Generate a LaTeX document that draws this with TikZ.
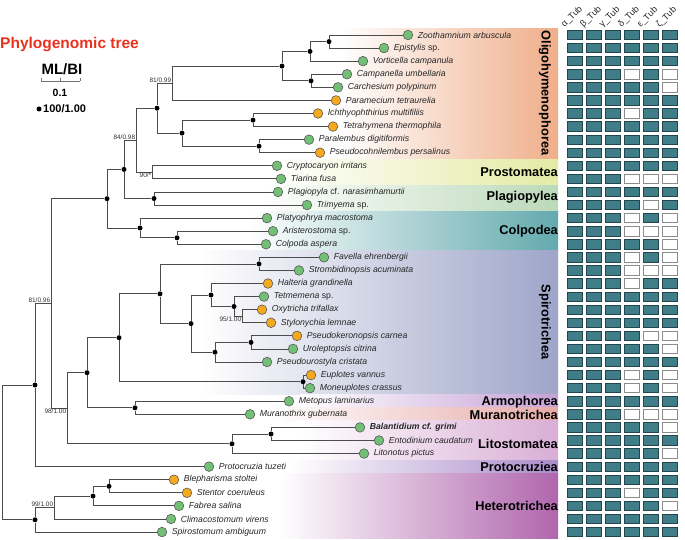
\documentclass[tikz,border=0pt]{standalone}
\usepackage{fontspec}
\setmainfont{Liberation Sans}
\usetikzlibrary{positioning,backgrounds}
\definecolor{Leaf}{HTML}{72BF76}
\definecolor{Amber}{HTML}{F6A91C}
\definecolor{TubFill}{HTML}{3F7D89}
\definecolor{TubLine}{HTML}{24454C}
\definecolor{TitleRed}{HTML}{E8321E}
\definecolor{OligoC}{HTML}{EFAE8A}
\definecolor{ProstC}{HTML}{E3EBA4}
\definecolor{PlagC}{HTML}{BCD9BA}
\definecolor{ColpC}{HTML}{63AAAE}
\definecolor{SpiroC}{HTML}{9EA5C9}
\definecolor{ArmoC}{HTML}{C6A1D6}
\definecolor{MuraC}{HTML}{E6AAA6}
\definecolor{LitoC}{HTML}{D9AED5}
\definecolor{ProtoC}{HTML}{A98CCB}
\definecolor{HeteC}{HTML}{B066AD}

\begin{document}
\begin{tikzpicture}[x=1pt,y=-1pt,
    branch/.style={draw=black!70,line width=0.8pt},
    tip/.style={circle,draw=black!65,line width=0.6pt,minimum size=9.6pt,inner sep=0pt},
    dot/.style={circle,fill=black,inner sep=0pt,minimum size=5pt},
    taxon/.style={font=\fontsize{8.7}{10}\selectfont\itshape,text=black!85,inner sep=0pt},
    support/.style={font=\fontsize{6.5}{7}\selectfont,text=black!80,inner sep=0.6pt},
    clade/.style={font=\fontsize{12.8}{14}\selectfont\bfseries,inner sep=0pt},
    tubhead/.style={font=\fontsize{9}{10}\selectfont,text=black!85,inner sep=0pt},
    tubbox/.style={draw=TubLine,fill=TubFill,line width=0.8pt,minimum width=15pt,minimum height=9.4pt,inner sep=0pt},
    nobox/.style={draw=black!45,fill=white,line width=0.8pt,minimum width=15pt,minimum height=9.4pt,inner sep=0pt}]
  \useasboundingbox (0,0) rectangle (685,540);

  % title and legend
  \node[anchor=west,inner sep=0pt,text=TitleRed,font=\fontsize{15.5}{17}\selectfont\bfseries]
    (title) at (0,45) {Phylogenomic tree};
  \node[font=\fontsize{15}{17}\selectfont\bfseries,inner sep=0pt] (mlbi) at (62,69) {ML/BI};
  \coordinate (sb-l) at (41,81);
  \coordinate (sb-r) at (80,81);
  \draw[black!55,line width=0.8pt] (sb-l) -- (sb-r);
  \foreach \xx in {41,60.5,80}
    \draw[black!55,line width=0.8pt] (\xx,78) -- (\xx,81);
  \node[font=\fontsize{10.5}{12}\selectfont\bfseries,inner sep=0pt] (sbval) at (60,93) {0.1};
  \node[dot] (legdot) at (39,109) {};
  \node[anchor=west,inner sep=0pt,font=\fontsize{11}{13}\selectfont\bfseries] (legtxt) at (43,109) {100/1.00};

  % leaves
  \foreach \nm/\xx/\rr/\col/\txt in {
      zoo/408/1/Leaf/{Zoothamnium arbuscula},
      epi/384/2/Leaf/{Epistylis \textup{sp.}},
      vor/363/3/Leaf/{Vorticella campanula},
      cam/347/4/Leaf/{Campanella umbellaria},
      car/338/5/Leaf/{Carchesium polypinum},
      par/336/6/Amber/{Paramecium tetraurelia},
      ich/318/7/Amber/{Ichthyophthirius multifiliis},
      tet/333/8/Amber/{Tetrahymena thermophila},
      pal/309/9/Leaf/{Paralembus digitiformis},
      psc/320/10/Amber/{Pseudocohnilembus persalinus},
      cry/277/11/Leaf/{Cryptocaryon irritans},
      tia/281/12/Leaf/{Tiarina fusa},
      pla/278/13/Leaf/{Plagiopyla \textup{cf.} narasimhamurtii},
      tri/307/14/Leaf/{Trimyema \textup{sp.}},
      pma/267/15/Leaf/{Platyophrya macrostoma},
      ari/273/16/Leaf/{Aristerostoma \textup{sp.}},
      col/266/17/Leaf/{Colpoda aspera},
      fav/324/18/Leaf/{Favella ehrenbergii},
      str/299/19/Leaf/{Strombidinopsis acuminata},
      hal/268/20/Amber/{Halteria grandinella},
      tem/264/21/Leaf/{Tetmemena \textup{sp.}},
      oxy/262/22/Amber/{Oxytricha trifallax},
      sty/271/23/Amber/{Stylonychia lemnae},
      pke/297/24/Amber/{Pseudokeronopsis carnea},
      uro/293/25/Leaf/{Uroleptopsis citrina},
      pur/267/26/Leaf/{Pseudourostyla cristata},
      eup/311/27/Amber/{Euplotes vannus},
      mon/310/28/Leaf/{Moneuplotes crassus},
      met/289/29/Leaf/{Metopus laminarius},
      mur/250/30/Leaf/{Muranothrix gubernata},
      bal/360/31/Leaf/{\bfseries Balantidium cf. grimi},
      ent/379/32/Leaf/{Entodinium caudatum},
      lit/364/33/Leaf/{Litonotus pictus},
      pro/209/34/Leaf/{Protocruzia tuzeti},
      ble/174/35/Amber/{Blepharisma stoltei},
      ste/187/36/Amber/{Stentor coeruleus},
      fab/179/37/Leaf/{Fabrea salina},
      cli/171/38/Leaf/{Climacostomum virens},
      spi/162/39/Leaf/{Spirostomum ambiguum}}
  {
    \node[tip,fill=\col] (\nm) at (\xx,{35+13.08*(\rr-1)}) {};
    \node[taxon,right=4.5pt of \nm] (\nm-t) {\txt};
  }

  % inner nodes
  \node[dot] (zo) at (329,41.6) {};
  \node[dot] (vo) at (310,51.4) {};
  \node[dot] (cc) at (311,80.8) {};
  \node[dot] (pe) at (282,66.1) {};
  \coordinate (s1) at (172,83.3);
  \node[dot] (it) at (253,120.1) {};
  \node[dot] (pp) at (259,146.2) {};
  \node[dot] (sc) at (182,133.1) {};
  \node[dot] (oh) at (157,108.2) {};
  \coordinate (s2) at (152,172.4);
  \coordinate (s3) at (136,140.3);
  \node[dot] (pg) at (154,198.5) {};
  \node[dot] (op) at (124,169.4) {};
  \node[dot] (ac) at (177,237.8) {};
  \node[dot] (cp) at (140,228) {};
  \node[dot] (cn) at (107,198.7) {};
  \node[dot] (fs) at (259,263.9) {};
  \coordinate (s4) at (242,316.3);
  \node[dot] (ts) at (234,306.5) {};
  \node[dot] (hh) at (211,295) {};
  \node[dot] (pu) at (251,342.4) {};
  \node[dot] (ur) at (215,352.2) {};
  \node[dot] (hy) at (191,323.6) {};
  \node[dot] (ch) at (160,293.8) {};
  \node[dot] (eu) at (303,381.7) {};
  \node[dot] (sr) at (119,337.7) {};
  \node[dot] (am) at (135,407.8) {};
  \node[dot] (ia) at (87,372.7) {};
  \node[dot] (be) at (271,434) {};
  \node[dot] (lt) at (232,443.8) {};
  \coordinate (s5) at (67,408.2);
  \coordinate (s6) at (51,303.5);
  \node[dot] (cr) at (35,385) {};
  \node[dot] (bs) at (109,486.3) {};
  \node[dot] (bf) at (93,496.1) {};
  \coordinate (s7) at (54,507.5);
  \node[dot] (ht) at (35,519.8) {};
  \coordinate (root) at (2,452.4);

  % support values
  \node[support,anchor=south east] (s1-v) at (s1) {81/0.99};
  \node[support,anchor=north east] (s2-v) at (s2) {90/*};
  \node[support,anchor=south east] (s3-v) at (s3) {84/0.98};
  \node[support,anchor=north east] (s4-v) at (s4) {95/1.00};
  \node[support,anchor=north east] (s5-v) at (s5) {98/1.00};
  \node[support,anchor=south east] (s6-v) at (s6) {81/0.96};
  \node[support,anchor=south east] (s7-v) at (s7) {99/1.00};

  % clade bands and branches
  \begin{scope}[on background layer]
    \shade[left color=white,right color=OligoC] (340,28.5) rectangle (558,159.2);
    \shade[left color=white,right color=ProstC] (270,159.2) rectangle (558,185.4);
    \shade[left color=white,right color=PlagC] (260,185.4) rectangle (558,211.5);
    \shade[left color=white,right color=ColpC] (250,211.5) rectangle (558,250.8);
    \shade[left color=white,right color=SpiroC] (200,250.8) rectangle (558,394.6);
    \shade[left color=white,right color=ArmoC] (300,394.6) rectangle (558,407.8);
    \shade[left color=white,right color=MuraC] (270,407.8) rectangle (558,420.9);
    \shade[left color=white,right color=LitoC] (300,420.9) rectangle (558,460.1);
    \shade[left color=white,right color=ProtoC] (290,460.1) rectangle (558,473.2);
    \shade[left color=white,right color=HeteC] (280,473.2) rectangle (558,538.5);
    \foreach \pa/\ch in {zo/zoo,zo/epi,vo/zo,vo/vor,cc/cam,cc/car,pe/vo,pe/cc,
        s1/pe,s1/par,it/ich,it/tet,pp/pal,pp/psc,sc/it,sc/pp,oh/s1,oh/sc,
        s2/cry,s2/tia,s3/oh,s3/s2,pg/pla,pg/tri,op/s3,op/pg,ac/ari,ac/col,
        cp/pma,cp/ac,cn/op,cn/cp,fs/fav,fs/str,s4/oxy,s4/sty,ts/tem,ts/s4,
        hh/hal,hh/ts,pu/pke,pu/uro,ur/pu,ur/pur,hy/hh,hy/ur,ch/fs,ch/hy,
        eu/eup,eu/mon,sr/ch,sr/eu,am/met,am/mur,ia/sr,ia/am,be/bal,be/ent,
        lt/be,lt/lit,s5/ia,s5/lt,s6/cn,s6/s5,cr/s6,cr/pro,bs/ble,bs/ste,
        bf/bs,bf/fab,s7/bf,s7/cli,ht/s7,ht/spi,root/cr,root/ht}
      \draw[branch] (\pa) |- (\ch);
  \end{scope}

  % clade names
  \node[clade,rotate=-90] (oligo) at (545,93) {Oligohymenophorea};
  \node[clade,anchor=east] (prost) at (558,172) {Prostomatea};
  \node[clade,anchor=east] (plag) at (558,197) {Plagiopylea};
  \node[clade,anchor=east] (colp) at (558,231) {Colpodea};
  \node[clade,rotate=-90] (spiro) at (545,322) {Spirotrichea};
  \node[clade,anchor=east] (armo) at (558,402) {Armophorea};
  \node[clade,anchor=east] (mura) at (558,415) {Muranotrichea};
  \node[clade,anchor=east] (lito) at (558,444) {Litostomatea};
  \node[clade,anchor=east] (proto) at (558,467) {Protocruziea};
  \node[clade,anchor=east] (hetero) at (558,506) {Heterotrichea};

  % tubulin matrix
  \foreach \g [count=\i] in {α,β,γ,δ,ε,ζ}
    \node[tubhead,rotate=45,anchor=south west] (h\i) at ({566+19*(\i-1)},29) {\g\_Tub};
  \foreach \r in {1,...,39}
    \foreach \c in {1,...,6}
      \node[tubbox] (b\r-\c) at ({575+19*(\c-1)},{35+13.08*(\r-1)}) {};
  \foreach \r/\c in {4/4,4/6,5/6,7/4,12/4,12/5,12/6,14/5,15/4,15/6,16/4,16/5,16/6,
      17/6,18/4,18/6,19/4,19/5,19/6,20/4,24/5,24/6,25/6,27/4,27/6,28/4,28/6,
      30/4,30/5,30/6,31/6,33/6,36/4,37/6}
    \node[nobox] (e\r-\c) at ({575+19*(\c-1)},{35+13.08*(\r-1)}) {};
\end{tikzpicture}
\end{document}
